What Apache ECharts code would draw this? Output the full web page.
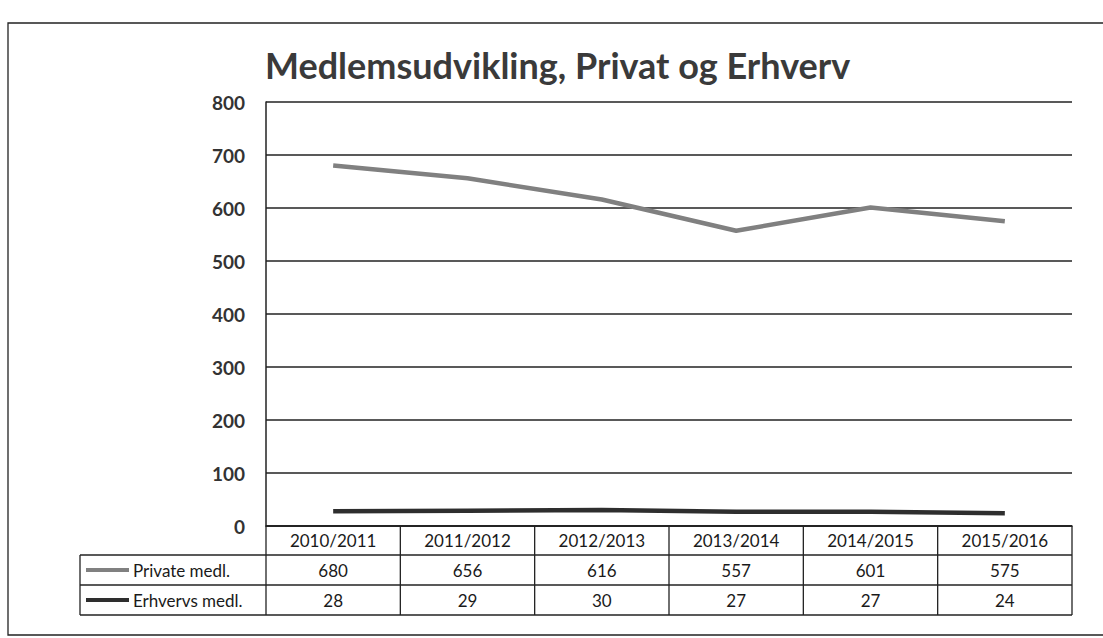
<!DOCTYPE html>
<html><head><meta charset="utf-8">
<script src="https://cdn.jsdelivr.net/npm/echarts@6/dist/echarts.min.js"></script>
<style>html,body{margin:0;padding:0;background:#fff}#c{width:1103px;height:638px}</style>
</head><body><div id="c"></div>
<script>
const titleText = 'Medlemsudvikling, Privat og Erhverv';
const categories = ['2010/2011','2011/2012','2012/2013','2013/2014','2014/2015','2015/2016'];
const seriesNames = ['Private medl.','Erhvervs medl.'];
const privateValues = [680,656,616,557,601,575];
const erhvervValues = [28,29,30,27,27,24];
const yTicks = [0,100,200,300,400,500,600,700,800];

const FONT = 'Lato';
const chart = echarts.init(document.getElementById('c'), null, {renderer:'svg'});
const colPriv = '#808080', colErh = '#2e2e2e';
chart.setOption({
  animation:false,
  backgroundColor:'#fff',
  title:{text:titleText,left:260,top:42,textStyle:{fontFamily:FONT,fontSize:36,fontWeight:'bold',color:'#3a3a3a'}},
  grid:{left:266,right:31,top:102,bottom:112},
  xAxis:{type:'category',data:categories,boundaryGap:true,
    axisLine:{show:true,lineStyle:{color:'#222',width:1.5}},axisTick:{show:false},axisLabel:{show:false},splitLine:{show:false}},
  yAxis:{type:'value',min:yTicks[0],max:yTicks[yTicks.length-1],interval:100,
    axisLine:{show:true,lineStyle:{color:'#222',width:1.5}},axisTick:{show:false},
    axisLabel:{fontFamily:FONT,fontSize:19,fontWeight:'bold',color:'#333',margin:21},
    splitLine:{lineStyle:{color:'#222',width:1.5}}},
  series:[
    {name:seriesNames[0],type:'line',data:privateValues,symbol:'none',lineStyle:{color:colPriv,width:4.5},itemStyle:{color:colPriv}},
    {name:seriesNames[1],type:'line',data:erhvervValues,symbol:'none',lineStyle:{color:colErh,width:4.5},itemStyle:{color:colErh}}
  ]
});

// data table built from the axis scales
const centers = categories.map((c,i)=>chart.convertToPixel({xAxisIndex:0},i));
const band = centers[1]-centers[0];
const xL = centers[0]-band/2, xR = centers[centers.length-1]+band/2;
const y0 = chart.convertToPixel({yAxisIndex:0},0);
const rowH = [29,30,30];
const yA = y0, yB = y0+rowH[0], yC = yB+rowH[1], yD = yC+rowH[2];
const legL = 80;
const g = [];
const ls = {stroke:'#222',lineWidth:1.3};
function line(x1,y1,x2,y2){g.push({type:'line',shape:{x1,y1,x2,y2},style:ls,silent:true});}
function text(t,x,y,align){g.push({type:'text',x,y,style:{text:t,fontFamily:FONT,fontSize:17,fill:'#1a1a1a',align:align||'center',verticalAlign:'middle'},silent:true});}
line(xL,yA,xR,yA); line(legL,yB,xR,yB); line(legL,yC,xR,yC); line(legL,yD,xR,yD);
line(legL,yB,legL,yD);
for(let i=0;i<=categories.length;i++){const x=xL+i*band; line(x,yA,x,yD);}
categories.forEach((c,i)=>{
  text(c,centers[i],(yA+yB)/2);
  text(String(privateValues[i]),centers[i],(yB+yC)/2);
  text(String(erhvervValues[i]),centers[i],(yC+yD)/2);
});
[[seriesNames[0],colPriv,(yB+yC)/2],[seriesNames[1],colErh,(yC+yD)/2]].forEach(([n,c,y])=>{
  g.push({type:'line',shape:{x1:86,y1:y,x2:129,y2:y},style:{stroke:c,lineWidth:4},silent:true});
  text(n,133,y,'left');
});
// outer chart border
g.push({type:'rect',shape:{x:8,y:23,width:1110,height:612},style:{fill:null,stroke:'#222',lineWidth:1.3},silent:true,z:-1});
chart.setOption({graphic:g});
</script></body></html>
